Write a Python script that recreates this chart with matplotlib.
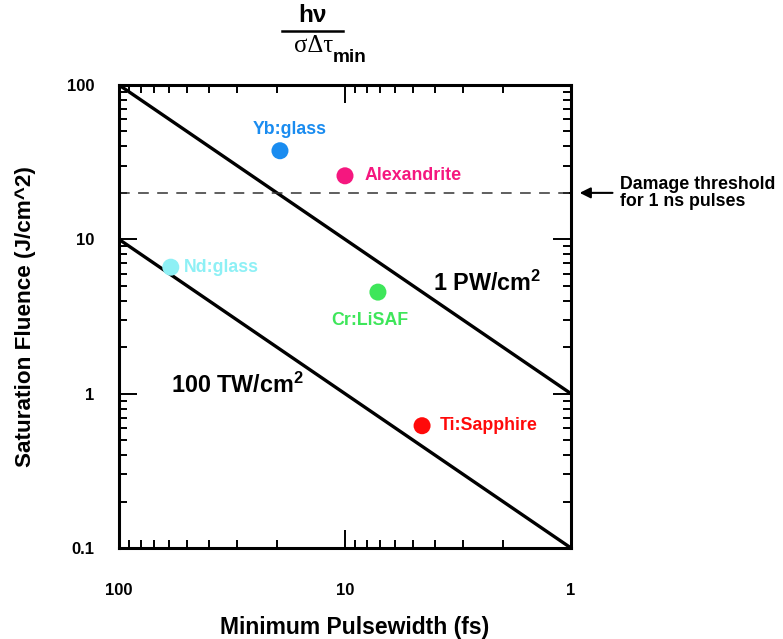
import numpy as np
import matplotlib
matplotlib.use('Agg')
import matplotlib.pyplot as plt
from matplotlib.ticker import FixedLocator, FixedFormatter, NullFormatter, LogLocator

plt.rcParams['font.family'] = ['Liberation Sans', 'DejaVu Sans']
plt.rcParams['font.weight'] = 'bold'
plt.rcParams['mathtext.fontset'] = 'custom'
plt.rcParams['mathtext.bf'] = 'Liberation Sans:bold'
plt.rcParams['mathtext.rm'] = 'Liberation Sans:bold'
plt.rcParams['mathtext.default'] = 'bf'

# 데이터
pulse_range = [100, 1]            # fs
pw_line = [100, 1]                # 1 PW/cm^2
tw_line = [10, 0.1]               # 100 TW/cm^2
damage_level = 20

names = ['Yb:glass', 'Alexandrite', 'Nd:glass', 'Cr:LiSAF', 'Ti:Sapphire']
pulse = [19.4, 10.0, 59.0, 7.15, 4.56]
fluence = [37.5, 25.8, 6.6, 4.55, 0.62]
colors = ['#1a8cf0', '#f5177f', '#8ef0f5', '#3ee65a', '#ff0a0a']

xticks = [100, 10, 1]
yticks = [100, 10, 1, 0.1]

fig = plt.figure(figsize=(7.83, 6.39), dpi=100)
ax = fig.add_axes([119/783, 1-548/639, 452/783, 463/639])
ax.set_xscale('log')
ax.set_yscale('log')
ax.set_xlim(100, 1)
ax.set_ylim(0.1, 100)

ax.plot(pulse_range, pw_line, color='black', lw=2.4, solid_capstyle='butt')
ax.plot(pulse_range, tw_line, color='black', lw=2.4, solid_capstyle='butt')
ax.axhline(damage_level, color='#333333', lw=1.1, dashes=(7, 5.5))

ax.scatter(pulse, fluence, s=150, c=colors, edgecolors='none', zorder=3)

# 라벨 위치 (텍스트 오프셋, px)
offsets = [(10, 21, 'center'), (20, 0, 'left'), (13, 0, 'left'), (-8, -28, 'center'), (18, 0, 'left')]
for n, x, y, c, (dx, dy, ha) in zip(names, pulse, fluence, colors, offsets):
    ax.annotate(n, (x, y), xytext=(dx * 0.72, dy * 0.72), textcoords='offset points',
                ha=ha, va='center', color=c, fontsize=12.8, fontweight='bold')

ax.text(0.814, 0.572, r'1 PW/cm$^{2}$', transform=ax.transAxes, fontsize=16.8,
        fontweight='bold', ha='center', va='center')
ax.text(0.261, 0.352, r'100 TW/cm$^{2}$', transform=ax.transAxes, fontsize=16.8,
        fontweight='bold', ha='center', va='center')

# 손상 임계값 화살표
ax.annotate('', xy=(1.013, damage_level), xytext=(1.098, damage_level),
            xycoords=('axes fraction', 'data'), textcoords=('axes fraction', 'data'),
            arrowprops=dict(arrowstyle='-|>', color='black', lw=1.5, mutation_scale=16),
            annotation_clip=False)
ax.text(1.108, damage_level, 'Damage threshold\nfor 1 ns pulses', transform=ax.get_yaxis_transform(),
        ha='left', va='center', fontsize=12.8, fontweight='bold', linespacing=1.05)

# 축 설정
ax.xaxis.set_major_locator(FixedLocator(xticks))
ax.xaxis.set_major_formatter(FixedFormatter([str(t) for t in xticks]))
ax.yaxis.set_major_locator(FixedLocator(yticks))
ax.yaxis.set_major_formatter(FixedFormatter(['100', '10', '1', '0.1']))
ax.xaxis.set_minor_locator(LogLocator(base=10, subs=np.arange(2, 10)))
ax.yaxis.set_minor_locator(LogLocator(base=10, subs=np.arange(2, 10)))
ax.xaxis.set_minor_formatter(NullFormatter())
ax.yaxis.set_minor_formatter(NullFormatter())

ax.tick_params(which='both', direction='in', top=True, right=True, width=1.4)
ax.tick_params(which='major', length=13)
ax.tick_params(which='minor', length=6)
ax.tick_params(axis='x', which='major', pad=25, labelsize=12)
ax.tick_params(axis='y', which='major', pad=18, labelsize=12)
for s in ax.spines.values():
    s.set_linewidth(2.2)

ax.set_xlabel('Minimum Pulsewidth (fs)', fontsize=16.5, fontweight='bold', labelpad=13)
ax.xaxis.label.set_x(0.522)
ax.set_ylabel('Saturation Fluence (J/cm^2)', fontsize=16.2, fontweight='bold', labelpad=22)

# 위쪽 분수 라벨
fig.text(312/783, 1-16/639, 'h\u03bd', fontsize=17.5, fontweight='bold', ha='center', va='center')
fig.add_artist(plt.Line2D([282/783, 343/783], [1-31/639, 1-31/639], color='black', lw=1.8,
                          transform=fig.transFigure))
fig.text(314/783, 1-46/639, '\u03c3\u0394\u03c4', fontsize=17.8, fontweight='normal',
         family='Liberation Serif', ha='center', va='center')
fig.text(333/783, 1-57/639, 'min', fontsize=13.7, fontweight='bold', ha='left', va='center')

fig.savefig('out.png', dpi=100)
